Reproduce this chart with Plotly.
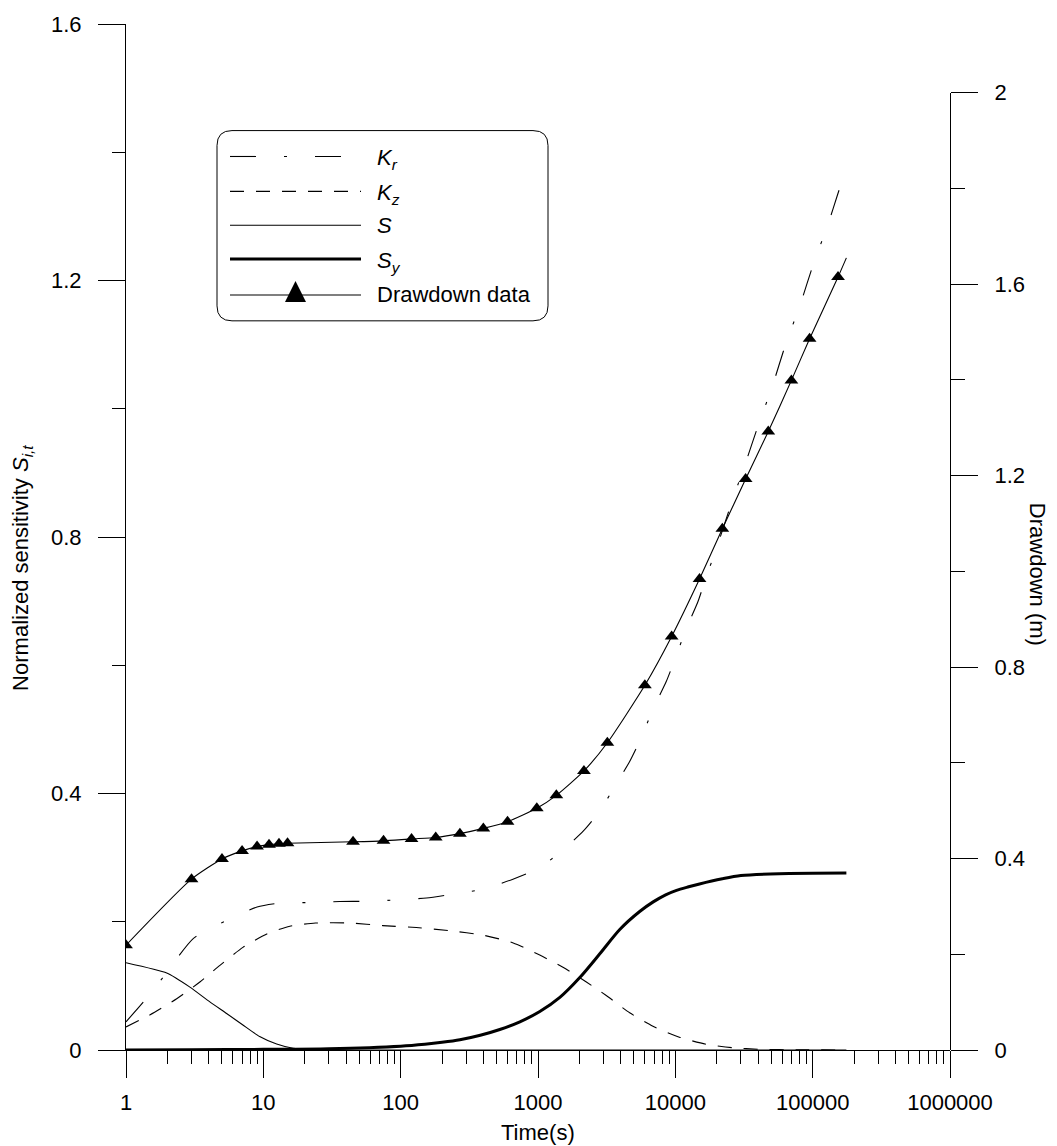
import plotly.graph_objects as go

# ---------------- data ----------------
time_Kr = [1, 1.34, 1.87, 3.1, 5.4, 9, 13, 22, 36, 56, 93, 154, 240, 400, 650, 980,
           1450, 2150, 2800, 3600, 4650, 5640, 6860, 8600, 10000, 11900, 14600, 16800,
           19900, 26000, 31800, 40000, 51000, 63000, 81000, 101000, 130000, 153000, 176000]
sens_Kr = [0.044, 0.075, 0.114, 0.174, 0.202, 0.223, 0.229, 0.230, 0.2315, 0.232, 0.234,
           0.237, 0.243, 0.251, 0.266, 0.282, 0.308, 0.342, 0.372, 0.410, 0.450, 0.487,
           0.531, 0.575, 0.611, 0.655, 0.699, 0.738, 0.782, 0.857, 0.910, 0.973, 1.036,
           1.098, 1.162, 1.225, 1.289, 1.336, 1.375]

time_Kz = [1, 1.5, 2.34, 3.45, 4.83, 7.1, 10.6, 15.6, 24, 43, 74, 130, 228, 400, 660,
           1030, 1520, 2250, 3140, 4650, 6870, 10700, 16700, 26000, 41000, 80000, 176000]
sens_Kz = [0.036, 0.055, 0.080, 0.106, 0.132, 0.160, 0.181, 0.193, 0.198, 0.198, 0.194,
           0.191, 0.186, 0.179, 0.167, 0.148, 0.129, 0.106, 0.085, 0.058, 0.037, 0.020,
           0.009, 0.0036, 0.001, 0.0003, 0.0]

time_S = [1, 1.98, 2.92, 4.08, 5.4, 7.1, 9.4, 12.5, 16.5, 22, 35, 60, 176000]
sens_S = [0.136, 0.120, 0.098, 0.075, 0.057, 0.039, 0.021, 0.0093, 0.0026, 0.0008,
          0.0002, 0.0, 0.0]

time_Sy = [1, 3, 10, 30, 100, 150, 200, 270, 380, 527, 738, 1031, 1442, 2015, 2818,
           3940, 5500, 6900, 8500, 10200, 12500, 15000, 22000, 30000, 57000, 176000]
sens_Sy = [0.0, 0.0003, 0.001, 0.002, 0.006, 0.009, 0.012, 0.016, 0.023, 0.032, 0.044,
           0.060, 0.082, 0.113, 0.150, 0.188, 0.216, 0.231, 0.242, 0.249, 0.2545, 0.259,
           0.267, 0.272, 0.275, 0.276]

time_obs = [1, 3, 5, 7, 9, 11, 13, 15, 45, 75, 120, 180, 270, 400, 600, 980, 1360, 2160,
            3200, 6000, 9400, 15000, 22000, 32500, 47500, 70000, 95000, 153000]
drawdown_obs = [0.219, 0.357, 0.399, 0.416, 0.425, 0.429, 0.431, 0.432, 0.435, 0.437,
                0.441, 0.444, 0.452, 0.463, 0.477, 0.505, 0.532, 0.583, 0.642, 0.762,
                0.864, 0.984, 1.089, 1.193, 1.292, 1.399, 1.486, 1.615]
fit_end_time = [176000]
fit_end_drawdown = [1.655]

x_tick_vals = [1, 10, 100, 1000, 10000, 100000, 1000000]
x_tick_text = ["1", "10", "100", "1000", "10000", "100000", "1000000"]
x_minor_digits = [2, 3, 4, 5, 6, 7, 8, 9]
left_tick_vals = [0, 0.4, 0.8, 1.2, 1.6]
left_tick_text = ["0", "0.4", "0.8", "1.2", "1.6"]
right_tick_vals = [0, 0.4, 0.8, 1.2, 1.6, 2]
right_tick_text = ["0", "0.4", "0.8", "1.2", "1.6", "2"]

legend_labels = ["<i>K</i><sub><i>r</i></sub>", "<i>K</i><sub><i>z</i></sub>",
                 "<i>S</i>", "<i>S</i><sub><i>y</i></sub>", "Drawdown data"]

# ---------------- layout geometry ----------------
W, H = 1057, 1146
L, R, T, B = 126, 950, 20, 1050
FONT = "Liberation Sans, Arial, Helvetica, sans-serif"


def px(xp):
    return (xp - L) / (R - L)


def py(yp):
    return (B - yp) / (B - T)


x_minor = [d * 10 ** k for k in range(6) for d in x_minor_digits]

DASH_KR = "26px,28px,3px,28px"
DASH_KZ = "14px,12px"

fig = go.Figure()

fig.add_trace(go.Scatter(x=time_Kr, y=sens_Kr, mode="lines", yaxis="y",
                         line=dict(color="black", width=1.1, dash=DASH_KR,
                                   shape="spline", smoothing=0.6),
                         showlegend=False, name="Kr"))
fig.add_trace(go.Scatter(x=time_Kz, y=sens_Kz, mode="lines", yaxis="y",
                         line=dict(color="black", width=1.1, dash=DASH_KZ,
                                   shape="spline", smoothing=0.6),
                         showlegend=False, name="Kz"))
fig.add_trace(go.Scatter(x=time_S, y=sens_S, mode="lines", yaxis="y",
                         line=dict(color="black", width=1.1, shape="spline", smoothing=0.5),
                         showlegend=False, name="S"))
fig.add_trace(go.Scatter(x=time_Sy, y=sens_Sy, mode="lines", yaxis="y",
                         line=dict(color="black", width=3, shape="spline", smoothing=0.8),
                         showlegend=False, name="Sy"))
fig.add_trace(go.Scatter(x=time_obs + fit_end_time, y=drawdown_obs + fit_end_drawdown,
                         mode="lines", xaxis="x", yaxis="y2",
                         line=dict(color="black", width=1.1, shape="spline", smoothing=0.6),
                         showlegend=False, name="Drawdown model"))
fig.add_trace(go.Scatter(x=time_obs, y=drawdown_obs, mode="markers", xaxis="x", yaxis="y2",
                         marker=dict(symbol="triangle-up", size=12, color="black",
                                     line=dict(width=0)),
                         showlegend=False, name="Drawdown data"))

axis_common = dict(showgrid=False, zeroline=False, showline=True, linecolor="black",
                   linewidth=1, ticks="outside", ticklen=27, tickwidth=1,
                   tickcolor="black", tickfont=dict(family=FONT, size=22, color="black"))

fig.update_layout(
    width=W, height=H,
    margin=dict(l=L, r=W - R, t=T, b=H - B, pad=0),
    paper_bgcolor="white", plot_bgcolor="rgba(0,0,0,0)",
    font=dict(family=FONT, size=22, color="black"),
    showlegend=False,
    xaxis=dict(type="log", range=[0, 6], tickmode="array", tickvals=x_tick_vals,
               ticktext=x_tick_text, anchor="y", ticklabelstandoff=6,
               minor=dict(tickmode="array", tickvals=x_minor, ticks="outside",
                          ticklen=13, tickwidth=1, tickcolor="black", showgrid=False),
               **axis_common),
    yaxis=dict(range=[0, 1.6], domain=[0, 1], tickmode="array", tickvals=left_tick_vals,
               ticktext=left_tick_text, anchor="x", ticklabelstandoff=12,
               minor=dict(dtick=0.2, tick0=0, ticks="outside", ticklen=13, tickwidth=1,
                          tickcolor="black", showgrid=False),
               **axis_common),
    yaxis2=dict(range=[0, 2], domain=[0, py(89)], side="right", anchor="x",
                tickmode="array", tickvals=right_tick_vals, ticktext=right_tick_text,
                ticklabelstandoff=12,
                minor=dict(dtick=0.2, tick0=0, ticks="outside", ticklen=14, tickwidth=1,
                           tickcolor="black", showgrid=False),
                **axis_common),
)

annotations = [
    dict(text="Time(s)", x=px(538), y=py(1133), xref="paper", yref="paper",
         showarrow=False, xanchor="center", yanchor="middle",
         font=dict(family=FONT, size=22, color="black")),
    dict(text="Normalized sensitivity <i>S</i><sub><i>i,t</i></sub>", x=px(22), y=py(566),
         xref="paper", yref="paper", showarrow=False, textangle=-90,
         xanchor="center", yanchor="middle",
         font=dict(family=FONT, size=22, color="black")),
    dict(text="Drawdown (m)", x=px(1037), y=py(572), xref="paper", yref="paper",
         showarrow=False, textangle=90, xanchor="center", yanchor="middle",
         font=dict(family=FONT, size=22, color="black")),
]

# ---------------- custom legend ----------------
bx0, bx1, by0, by1, rr = 217, 548, 127, 318, 15


def P(xp, yp):
    return f"{px(xp):.5f},{py(yp):.5f}"


box_path = ("M " + P(bx0 + rr, by0) + " L " + P(bx1 - rr, by0) +
            " Q " + P(bx1, by0) + " " + P(bx1, by0 + rr) +
            " L " + P(bx1, by1 - rr) +
            " Q " + P(bx1, by1) + " " + P(bx1 - rr, by1) +
            " L " + P(bx0 + rr, by1) +
            " Q " + P(bx0, by1) + " " + P(bx0, by1 - rr) +
            " L " + P(bx0, by0 + rr) +
            " Q " + P(bx0, by0) + " " + P(bx0 + rr, by0) + " Z")

shapes = [dict(type="path", path=box_path, xref="paper", yref="paper",
               line=dict(color="black", width=1), fillcolor="white", layer="above")]

row_y = [153, 188, 222, 256, 292]
row_dash = [DASH_KR, DASH_KZ, "solid", "solid", "solid"]
row_w = [1.1, 1.1, 1.1, 3, 1.1]
for yy, dsh, ww in zip(row_y, row_dash, row_w):
    shapes.append(dict(type="line", xref="paper", yref="paper",
                       x0=px(230), x1=px(361), y0=py(yy), y1=py(yy),
                       line=dict(color="black", width=ww, dash=dsh), layer="above"))

# legend triangle
tri = ("M " + P(285, 299) + " L " + P(306, 299) + " L " + P(295.5, 278) + " Z")
shapes.append(dict(type="path", path=tri, xref="paper", yref="paper",
                   line=dict(color="black", width=0), fillcolor="black", layer="above"))

text_y = [156, 191, 222, 259, 292]
for lab, yy in zip(legend_labels, text_y):
    annotations.append(dict(text=lab, x=px(375), y=py(yy), xref="paper", yref="paper",
                            showarrow=False, xanchor="left", yanchor="middle",
                            font=dict(family=FONT, size=22, color="black")))

fig.update_layout(shapes=shapes, annotations=annotations)

fig.write_html("out.html")
